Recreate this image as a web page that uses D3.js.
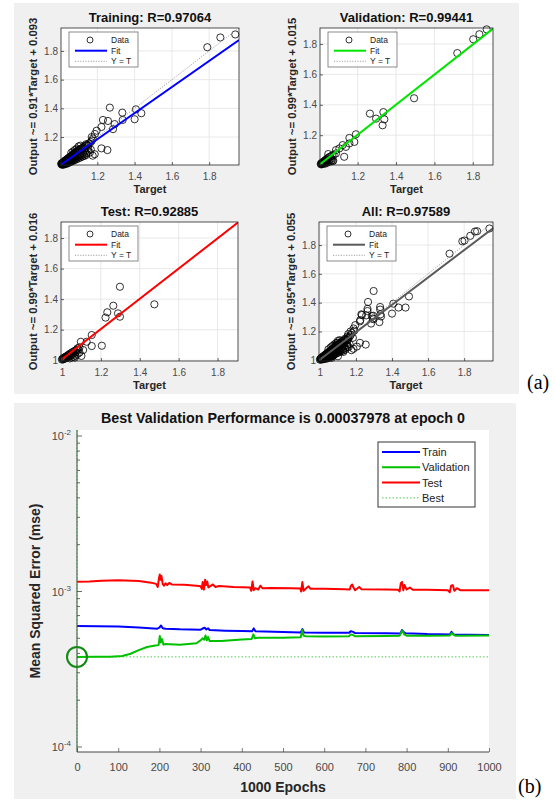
<!DOCTYPE html>
<html><head><meta charset="utf-8">
<script src="https://cdn.jsdelivr.net/npm/d3@7"></script>
<style>body{margin:0;background:#fff;} svg{display:block;font-family:"Liberation Sans",Arial,Helvetica,sans-serif;}</style>
</head><body>
<svg id="c" width="555" height="801"></svg>
<script>
// ---------------- DATA ----------------
const panelTitles = ["Training: R=0.97064", "Validation: R=0.99441", "Test: R=0.92885", "All: R=0.97589"];
const fitSlopes = [0.91, 0.99, 0.99, 0.95];
const fitIntercepts = [0.093, 0.015, 0.016, 0.055];
const yAxisLabels = ["Output ~= 0.91*Target + 0.093", "Output ~= 0.99*Target + 0.015",
                     "Output ~= 0.99*Target + 0.016", "Output ~= 0.95*Target + 0.055"];
const axisLimits = [[1.005, 1.96], [1.004, 1.905], [0.995, 1.905], [0.995, 1.96]];
const regTicks = [1, 1.2, 1.4, 1.6, 1.8];
const legendLabels = ["Data", "Fit", "Y = T"];

// [target, output]
const trainingPoints = [
 [1.94,1.915],[1.86,1.894],[1.79,1.826],
 [1.267,1.405],[1.334,1.37],[1.407,1.393],[1.436,1.366],[1.40,1.324],[1.336,1.319],[1.257,1.312],
 [1.23,1.319],[1.222,1.27],[1.284,1.255],[1.293,1.29],[1.196,1.244],[1.187,1.221],[1.177,1.19],
 [1.222,1.121],[1.254,1.109],[1.186,1.08],[1.15,1.121],[1.165,1.165],[1.15,1.14],[1.14,1.15],
 [1.13,1.12],[1.17,1.2],
 [1.006,1.012],[1.008,1.016],[1.010,1.010],[1.012,1.020],[1.014,1.014],[1.016,1.024],[1.018,1.012],
 [1.020,1.028],[1.022,1.018],[1.024,1.032],[1.026,1.022],[1.028,1.036],[1.030,1.016],[1.032,1.040],
 [1.034,1.026],[1.036,1.044],[1.038,1.030],[1.040,1.048],[1.042,1.022],[1.044,1.052],[1.046,1.034],
 [1.048,1.056],[1.050,1.040],[1.052,1.060],[1.054,1.030],[1.056,1.064],[1.058,1.046],[1.060,1.068],
 [1.062,1.036],[1.064,1.072],[1.066,1.052],[1.068,1.076],[1.070,1.042],[1.072,1.080],[1.074,1.058],
 [1.076,1.084],[1.078,1.048],[1.080,1.088],[1.082,1.064],[1.084,1.092],[1.086,1.054],[1.088,1.096],
 [1.090,1.070],[1.092,1.100],[1.094,1.060],[1.096,1.104],[1.098,1.076],[1.100,1.108],[1.103,1.066],
 [1.106,1.112],[1.109,1.082],[1.112,1.118],[1.115,1.072],[1.118,1.122],[1.121,1.090],[1.124,1.128],
 [1.127,1.080],[1.130,1.134],[1.134,1.098],[1.138,1.140],[1.142,1.086],[1.146,1.146],[1.150,1.104],
 [1.155,1.155],[1.160,1.092],[1.165,1.112],[1.170,1.175],[1.175,1.070],
 [1.012,1.006],[1.02,1.008],[1.03,1.012],[1.04,1.016],[1.05,1.022],[1.06,1.028],[1.07,1.034],
 [1.08,1.040],[1.09,1.046],[1.1,1.052],[1.11,1.058],[1.12,1.064],[1.13,1.068],[1.14,1.075],
 [1.09,1.12],[1.1,1.135],[1.11,1.14],[1.08,1.11],[1.07,1.1],[1.06,1.09]
];
const validationPoints = [
 [1.872,1.896],[1.834,1.864],[1.802,1.831],[1.719,1.740],[1.494,1.443],
 [1.264,1.342],[1.296,1.309],[1.334,1.352],[1.339,1.304],[1.33,1.265],
 [1.191,1.206],[1.157,1.182],[1.183,1.156],[1.157,1.146],[1.122,1.135],[1.139,1.123],
 [1.105,1.113],[1.087,1.102],[1.13,1.058],[1.087,1.08],[1.073,1.032],[1.047,1.076],
 [1.008,1.01],[1.01,1.014],[1.012,1.008],[1.014,1.018],[1.016,1.012],[1.018,1.022],[1.02,1.015],
 [1.022,1.026],[1.025,1.018],[1.027,1.03],[1.03,1.022],[1.032,1.036],[1.035,1.026],[1.038,1.042],
 [1.04,1.03],[1.043,1.048],[1.046,1.036],[1.05,1.054],[1.054,1.04],[1.058,1.06],[1.062,1.046],
 [1.066,1.066],[1.07,1.03],[1.06,1.028],[1.05,1.024],[1.04,1.018],[1.03,1.012],[1.075,1.07],[1.065,1.035]
];
const testPoints = [
 [1.298,1.481],[1.475,1.366],[1.264,1.357],[1.233,1.314],[1.224,1.279],[1.288,1.307],[1.298,1.285],
 [1.153,1.165],[1.205,1.095],[1.153,1.093],[1.097,1.121],[1.127,1.121],[1.109,1.067],[1.1,1.028],
 [1.066,1.017],
 [1.0,1.004],[1.003,1.01],[1.006,1.006],[1.008,1.014],[1.01,1.008],[1.012,1.018],[1.015,1.012],
 [1.018,1.022],[1.02,1.015],[1.023,1.026],[1.026,1.018],[1.03,1.032],[1.033,1.022],[1.036,1.038],
 [1.04,1.028],[1.043,1.044],[1.046,1.034],[1.05,1.05],[1.054,1.04],[1.058,1.056],[1.062,1.046],
 [1.066,1.062],[1.07,1.052],[1.075,1.068],[1.08,1.078],[1.085,1.07],[1.09,1.085],[1.04,1.012],
 [1.05,1.018],[1.06,1.022],[1.07,1.03],[1.08,1.04],[1.09,1.05]
];
const allPoints = trainingPoints.concat(validationPoints, testPoints);
const panelPoints = [trainingPoints, validationPoints, testPoints, allPoints];

// performance (epoch, mse)
const trainPerf = [[0,5.99e-4],[50,5.98e-4],[100,5.96e-4],[150,5.87e-4],[195,5.77e-4],[200,5.85e-4],[204,6.05e-4],
 [208,5.8e-4],[215,5.76e-4],[250,5.71e-4],[300,5.68e-4],[305,5.78e-4],[310,5.85e-4],[314,5.7e-4],[318,5.8e-4],
 [322,5.66e-4],[360,5.6e-4],[400,5.565e-4],[425,5.55e-4],[429,5.79e-4],[433,5.55e-4],[500,5.48e-4],[543,5.45e-4],
 [547,5.73e-4],[551,5.45e-4],[600,5.435e-4],[660,5.42e-4],[665,5.56e-4],[670,5.5e-4],[675,5.4e-4],[750,5.38e-4],
 [785,5.37e-4],[789,5.65e-4],[793,5.5e-4],[797,5.38e-4],[850,5.32e-4],[905,5.3e-4],[909,5.5e-4],[914,5.3e-4],
 [950,5.28e-4],[1000,5.25e-4]];
const validationPerf = [[0,3.7978e-4],[40,3.80e-4],[80,3.81e-4],[110,3.85e-4],[130,3.98e-4],[150,4.2e-4],[170,4.4e-4],
 [190,4.5e-4],[198,4.52e-4],[201,5.17e-4],[203,4.7e-4],[206,4.95e-4],[210,4.55e-4],[215,4.6e-4],[250,4.55e-4],
 [290,4.65e-4],[300,4.85e-4],[305,5.0e-4],[309,4.9e-4],[312,5.22e-4],[315,4.85e-4],[318,5.1e-4],[322,4.8e-4],
 [350,4.8e-4],[400,4.92e-4],[424,4.95e-4],[428,5.30e-4],[432,5.0e-4],[440,5.05e-4],[500,5.05e-4],[543,5.08e-4],
 [547,5.65e-4],[550,5.2e-4],[555,5.15e-4],[600,5.13e-4],[660,5.15e-4],[665,5.3e-4],[670,5.25e-4],[675,5.15e-4],
 [750,5.17e-4],[783,5.2e-4],[787,5.45e-4],[790,5.6e-4],[794,5.3e-4],[800,5.2e-4],[850,5.2e-4],[905,5.22e-4],
 [909,5.4e-4],[913,5.3e-4],[918,5.2e-4],[1000,5.22e-4]];
const testPerf = [[0,1.154e-3],[30,1.16e-3],[60,1.172e-3],[100,1.18e-3],[150,1.17e-3],[180,1.14e-3],[192,1.12e-3],
 [196,1.07e-3],[199,1.22e-3],[201,1.285e-3],[203,1.19e-3],[205,1.26e-3],[208,1.12e-3],[211,1.09e-3],[215,1.13e-3],
 [219,1.10e-3],[224,1.135e-3],[230,1.11e-3],[260,1.105e-3],[290,1.09e-3],[300,1.08e-3],[303,1.04e-3],[305,1.15e-3],
 [308,1.03e-3],[311,1.19e-3],[313,1.10e-3],[316,1.16e-3],[319,1.06e-3],[323,1.08e-3],[330,1.11e-3],[336,1.07e-3],
 [345,1.085e-3],[380,1.07e-3],[420,1.06e-3],[423,1.01e-3],[426,1.16e-3],[429,1.02e-3],[433,1.05e-3],[440,1.03e-3],
 [445,1.09e-3],[450,1.05e-3],[470,1.055e-3],[520,1.05e-3],[542,1.045e-3],[544,1.0e-3],[547,1.15e-3],[550,1.01e-3],
 [555,1.04e-3],[562,1.08e-3],[567,1.04e-3],[600,1.04e-3],[650,1.035e-3],[662,1.03e-3],[665,1.09e-3],[668,1.11e-3],
 [671,1.06e-3],[675,1.02e-3],[685,1.07e-3],[690,1.035e-3],[750,1.03e-3],[780,1.025e-3],[783,1.00e-3],[786,1.13e-3],
 [789,1.15e-3],[792,1.02e-3],[795,1.10e-3],[800,1.03e-3],[808,1.06e-3],[815,1.025e-3],[850,1.025e-3],[900,1.02e-3],
 [905,0.99e-3],[908,1.09e-3],[912,1.10e-3],[916,1.01e-3],[922,1.05e-3],[930,1.02e-3],[1000,1.018e-3]];
const bestEpoch = 0;
const bestPerf = 0.00037978;
const perfTitle = "Best Validation Performance is 0.00037978 at epoch 0";
const perfXTicks = [0,100,200,300,400,500,600,700,800,900,1000];
const perfYMajor = [1e-4, 1e-3, 1e-2];
const perfYExp = [-4, -3, -2];
const perfLegend = ["Train", "Validation", "Test", "Best"];

// ---------------- DRAW ----------------
const svg = d3.select("#c");
const defs = svg.append("defs");
const FONT = '"Liberation Sans",Arial,Helvetica,sans-serif';

svg.append("rect").attr("x",14).attr("y",3).attr("width",505).attr("height",391).attr("fill","#f0f0f0");
svg.append("rect").attr("x",14).attr("y",403).attr("width",502).attr("height",396).attr("fill","#f0f0f0");

const boxes = [
  {x0:61, x1:239, y0:28, y1:165},
  {x0:320, x1:493, y0:28, y1:165},
  {x0:61, x1:238, y0:222, y1:361},
  {x0:319, x1:493, y0:222, y1:361}
];
const fitColors = ["#0000ff", "#00e600", "#ff0000", "#5a5a5a"];

function styleAxis(sel, size) {
  sel.select(".domain").remove();
  sel.selectAll(".tick line").attr("stroke","#262626").attr("stroke-width",0.7);
  sel.selectAll(".tick text").attr("fill","#4a4a4a").attr("font-size",size).attr("font-family",FONT);
}

panelPoints.forEach((pts, i) => {
  const b = boxes[i], lim = axisLimits[i];
  const x = d3.scaleLinear().domain(lim).range([b.x0, b.x1]);
  const y = d3.scaleLinear().domain(lim).range([b.y1, b.y0]);
  const g = svg.append("g");
  const ticks = regTicks.filter(t => t >= lim[0] - 1e-9 && t <= lim[1]);
  g.append("rect").attr("x",b.x0).attr("y",b.y0).attr("width",b.x1-b.x0).attr("height",b.y1-b.y0).attr("fill","#fff");
  // grid
  g.append("g").selectAll("line").data(ticks).join("line")
    .attr("x1",d=>x(d)).attr("x2",d=>x(d)).attr("y1",b.y0).attr("y2",b.y1)
    .attr("stroke","#e3e3e3").attr("stroke-width",0.8);
  g.append("g").selectAll("line").data(ticks).join("line")
    .attr("y1",d=>y(d)).attr("y2",d=>y(d)).attr("x1",b.x0).attr("x2",b.x1)
    .attr("stroke","#e3e3e3").attr("stroke-width",0.8);
  defs.append("clipPath").attr("id","clip"+i).append("rect")
    .attr("x",b.x0).attr("y",b.y0).attr("width",b.x1-b.x0).attr("height",b.y1-b.y0);
  // circles
  g.append("g").selectAll("circle").data(pts).join("circle")
    .attr("cx",d=>x(d[0])).attr("cy",d=>y(d[1])).attr("r",3.6)
    .attr("fill","none").attr("stroke","#000").attr("stroke-width",0.8);
  const cl = g.append("g").attr("clip-path","url(#clip"+i+")");
  // Y = T
  cl.append("line").attr("x1",x(lim[0])).attr("y1",y(lim[0])).attr("x2",x(lim[1])).attr("y2",y(lim[1]))
    .attr("stroke","#8c8c8c").attr("stroke-width",0.8).attr("stroke-dasharray","1.2,1.4");
  // Fit
  const m = fitSlopes[i], c = fitIntercepts[i];
  cl.append("line").attr("x1",x(lim[0])).attr("y1",y(m*lim[0]+c)).attr("x2",x(lim[1])).attr("y2",y(m*lim[1]+c))
    .attr("stroke",fitColors[i]).attr("stroke-width",2);
  // box
  g.append("rect").attr("x",b.x0).attr("y",b.y0).attr("width",b.x1-b.x0).attr("height",b.y1-b.y0)
    .attr("fill","none").attr("stroke","#262626").attr("stroke-width",0.8);
  // axes
  const fmt = d3.format("~g");
  g.append("g").attr("transform",`translate(0,${b.y1})`)
    .call(d3.axisBottom(x).tickValues(ticks).tickSize(-3).tickPadding(7.4).tickFormat(fmt))
    .call(s=>styleAxis(s,"10px"));
  g.append("g").attr("transform",`translate(${b.x0},0)`)
    .call(d3.axisLeft(y).tickValues(ticks).tickSize(-3).tickPadding(3).tickFormat(fmt))
    .call(s=>styleAxis(s,"10px"));
  // title
  g.append("text").attr("x",(b.x0+b.x1)/2).attr("y",b.y0-6).attr("text-anchor","middle")
    .attr("font-weight","bold").attr("font-size","13px").attr("fill","#111").text(panelTitles[i]);
  // x label
  g.append("text").attr("x",(b.x0+b.x1)/2).attr("y",b.y1+28).attr("text-anchor","middle")
    .attr("font-weight","bold").attr("font-size","11px").attr("fill","#262626").text("Target");
  // y label
  g.append("text").attr("transform",`translate(${b.x0-28},${(b.y0+b.y1)/2}) rotate(-90)`)
    .attr("text-anchor","middle").attr("dominant-baseline","central")
    .attr("font-weight","bold").attr("font-size","11.3px").attr("fill","#262626").text(yAxisLabels[i]);
  // legend
  const lx = b.x0 + 8, ly = b.y0 + 4;
  const lg = g.append("g").attr("transform",`translate(${lx},${ly})`);
  lg.append("rect").attr("width",69).attr("height",35).attr("fill","#fff").attr("stroke","#6e6e6e").attr("stroke-width",0.8);
  lg.append("circle").attr("cx",21).attr("cy",8).attr("r",3).attr("fill","none").attr("stroke","#000").attr("stroke-width",0.8);
  lg.append("line").attr("x1",6).attr("x2",38).attr("y1",18.7).attr("y2",18.7).attr("stroke",fitColors[i]).attr("stroke-width",2);
  lg.append("line").attr("x1",6).attr("x2",38).attr("y1",29.3).attr("y2",29.3).attr("stroke","#8c8c8c").attr("stroke-width",0.8).attr("stroke-dasharray","1.2,1.4");
  lg.selectAll("text").data(legendLabels).join("text")
    .attr("x",42).attr("y",(d,k)=>[8,18.7,29.3][k]).attr("dominant-baseline","central")
    .attr("font-size","8.5px").attr("fill","#222").text(d=>d);
});

// (a), (b)
svg.append("text").attr("x",527).attr("y",389).attr("font-family",'"Liberation Serif","Times New Roman",serif')
  .attr("font-size","20px").attr("fill","#000").text("(a)");
svg.append("text").attr("x",518).attr("y",793).attr("font-family",'"Liberation Serif","Times New Roman",serif')
  .attr("font-size","20px").attr("fill","#000").text("(b)");

// ---------- performance plot ----------
const P = {L:77, R:489, T:430, B:752};
const px = d3.scaleLinear().domain([0,1000]).range([P.L, P.R]);
const py = d3.scaleLog().domain([1e-4, 1e-2]).range([747, 436]);
const pg = svg.append("g");
pg.append("rect").attr("x",P.L).attr("y",P.T).attr("width",P.R-P.L).attr("height",P.B-P.T).attr("fill","#fff");
defs.append("clipPath").attr("id","pclip").append("rect").attr("x",P.L).attr("y",P.T).attr("width",P.R-P.L).attr("height",P.B-P.T);
const pc = pg.append("g").attr("clip-path","url(#pclip)");
const line = d3.line().x(d=>px(d[0])).y(d=>py(d[1]));
// best lines
pc.append("line").attr("x1",px(0)).attr("x2",px(1000)).attr("y1",py(bestPerf)).attr("y2",py(bestPerf))
  .attr("stroke","#55c855").attr("stroke-width",1).attr("stroke-dasharray","1.5,2");
const series = [[trainPerf,"#0000ff"],[validationPerf,"#00c000"],[testPerf,"#ff0000"]];
// draw order: test, train, validation
[[testPerf,"#ff0000"],[trainPerf,"#0000ff"],[validationPerf,"#00c000"]].forEach(([d,col])=>{
  pc.append("path").datum(d).attr("d",line).attr("fill","none").attr("stroke",col).attr("stroke-width",2).attr("stroke-linejoin","round");
});
// axes
pg.append("line").attr("x1",P.L).attr("x2",P.R).attr("y1",P.B).attr("y2",P.B).attr("stroke","#444").attr("stroke-width",1);
pg.append("line").attr("x1",P.L).attr("x2",P.L).attr("y1",P.T).attr("y2",P.B).attr("stroke","#444").attr("stroke-width",1);
pg.append("line").attr("x1",px(bestEpoch)).attr("x2",px(bestEpoch)).attr("y1",P.T).attr("y2",P.B)
  .attr("stroke","#33b033").attr("stroke-width",1).attr("stroke-dasharray","1.5,2");
// x axis ticks & labels
const xa = pg.append("g").attr("transform",`translate(0,${P.B})`)
  .call(d3.axisBottom(px).tickValues(perfXTicks).tickSize(-4).tickPadding(11).tickFormat(d3.format("d")));
styleAxis(xa,"11px");
xa.selectAll(".tick line").attr("stroke","#444");
// y axis minor/major ticks
const minors = [];
[1e-4,1e-3].forEach(base=>{ for(let k=2;k<=9;k++) minors.push(base*k); });
pg.append("g").selectAll("line").data(minors).join("line")
  .attr("x1",P.L).attr("x2",P.L+3).attr("y1",d=>py(d)).attr("y2",d=>py(d)).attr("stroke","#444").attr("stroke-width",0.8);
pg.append("g").selectAll("line").data(perfYMajor).join("line")
  .attr("x1",P.L).attr("x2",P.L+5).attr("y1",d=>py(d)).attr("y2",d=>py(d)).attr("stroke","#444").attr("stroke-width",0.8);
const yl = pg.append("g").selectAll("text").data(perfYMajor).join("text")
  .attr("x",P.L-6).attr("y",d=>py(d)+4).attr("text-anchor","end").attr("fill","#4a4a4a").attr("font-size","11px");
yl.append("tspan").text("10");
yl.append("tspan").attr("dy",-5).attr("font-size","8px").text((d,k)=>String(perfYExp[k]));
// best circle
pg.append("circle").attr("cx",px(bestEpoch)).attr("cy",py(bestPerf)).attr("r",10)
  .attr("fill","none").attr("stroke","#138a13").attr("stroke-width",2);
// title and labels
pg.append("text").attr("x",(P.L+P.R)/2).attr("y",423).attr("text-anchor","middle").attr("font-weight","bold")
  .attr("font-size","14.3px").attr("fill","#111").text(perfTitle);
pg.append("text").attr("x",(P.L+P.R)/2).attr("y",792).attr("text-anchor","middle").attr("font-weight","bold")
  .attr("font-size","14px").attr("fill","#262626").text("1000 Epochs");
pg.append("text").attr("transform",`translate(35,${(P.T+P.B)/2}) rotate(-90)`).attr("text-anchor","middle")
  .attr("dominant-baseline","central").attr("font-weight","bold").attr("font-size","14px").attr("fill","#262626")
  .text("Mean Squared Error  (mse)");
// legend
const LG = pg.append("g").attr("transform","translate(378,442)");
LG.append("rect").attr("width",97).attr("height",65).attr("fill","#fff").attr("stroke","#555").attr("stroke-width",1.2);
const legCols = ["#0000ff","#00c000","#ff0000","#55c855"];
perfLegend.forEach((name,k)=>{
  const yy = 10 + k*15.3;
  LG.append("line").attr("x1",4).attr("x2",42).attr("y1",yy).attr("y2",yy).attr("stroke",legCols[k])
    .attr("stroke-width",k===3?1:2).attr("stroke-dasharray",k===3?"1.5,2":null);
  LG.append("text").attr("x",44).attr("y",yy).attr("dominant-baseline","central").attr("font-size","11px")
    .attr("fill","#222").text(name);
});
</script>
</body></html>
